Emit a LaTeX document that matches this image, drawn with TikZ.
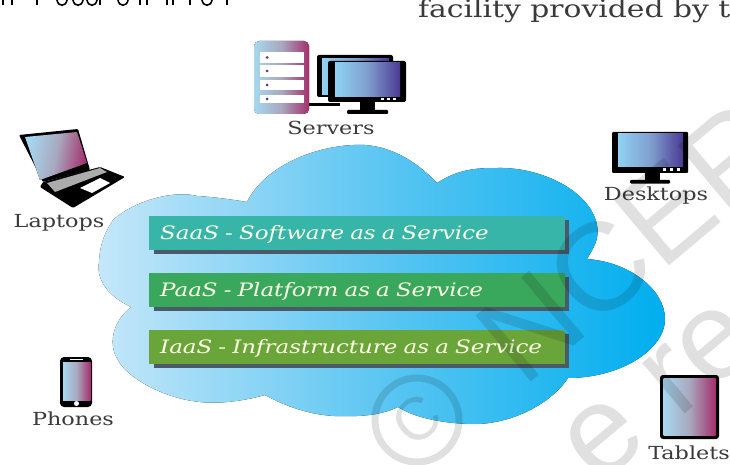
\documentclass[tikz,border=0pt]{standalone}
\usepackage{fontspec}
\setmainfont[FakeStretch=1.24]{DejaVu Serif}
\newfontfamily\wmfont{Liberation Sans}
\definecolor{cloudL}{HTML}{C6E7F9}
\definecolor{cloudM}{HTML}{5CC6F2}
\definecolor{cloudR}{HTML}{00AEEF}
\definecolor{iconL}{HTML}{A6D8F0}
\definecolor{iconM}{HTML}{A8A8BE}
\definecolor{iconR}{HTML}{A42F6C}
\definecolor{deskL}{HTML}{8FD2F2}
\definecolor{deskM}{HTML}{7F9FCE}
\definecolor{deskR}{HTML}{4B3A94}
\definecolor{barshadow}{HTML}{4A5A68}
\definecolor{labelgray}{HTML}{3A3A3A}
\tikzset{
  lbl/.style={text=labelgray,font=\fontsize{18}{18}\selectfont,inner sep=0pt},
  bar/.style={minimum width=416pt,minimum height=34pt,inner sep=0pt,text=white!90!yellow,anchor=west,
    font=\fontsize{18.5}{18.5}\selectfont\itshape,align=left,text width=394pt},
  pinkscreen/.style={left color=iconL,right color=iconR,middle color=iconM},
  bluescreen/.style={left color=deskL,right color=deskR,middle color=deskM},
  wmark/.style={rotate=40,inner sep=0pt,font=\wmfont\fontsize{125}{125}\selectfont}
}
\begin{document}
\begin{tikzpicture}[x=1pt,y=-1pt]
        \useasboundingbox (0,0) rectangle (730,465);
        \clip (0,0) rectangle (730,465);

        \foreach \hx in {3,12,37,100,140,147,167,173,190,227}{
          \draw [line width=1.6pt] (\hx,0) -- (\hx,5);
        }
        \foreach \hx in {62,78,92,123,207}{
          \draw [line width=1.6pt] (\hx-5,0) .. controls (\hx-4,7) and (\hx+4,7) .. (\hx+5,0);
        }

        \node (top) at (418,18) [text=labelgray,font=\fontsize{24}{24}\selectfont,inner sep=0pt,anchor=base west] {facility provided by t};

        \fill [left color=cloudL,right color=cloudR,middle color=cloudM]
          (131,307) .. controls (108,296) and (96,280) .. (99,262)
          .. controls (100,240) and (108,228) .. (113,220)
          .. controls (135,200) and (175,190) .. (197,196)
          .. controls (215,197) and (235,200) .. (247,202)
          .. controls (265,165) and (320,143) .. (365,145)
          .. controls (395,147) and (420,165) .. (437,183)
          .. controls (460,168) and (480,168) .. (498,168)
          .. controls (540,167) and (590,190) .. (597,225)
          .. controls (600,240) and (592,250) .. (587,259)
          .. controls (630,262) and (665,290) .. (665,319)
          .. controls (665,350) and (620,378) .. (568,378)
          .. controls (550,405) and (510,424) .. (475,424)
          .. controls (445,424) and (415,418) .. (398,407)
          .. controls (375,418) and (350,416) .. (335,416)
          .. controls (310,415) and (285,406) .. (265,395)
          .. controls (240,402) and (215,404) .. (200,402)
          .. controls (160,398) and (125,375) .. (118,360)
          .. controls (108,345) and (112,322) .. (131,307) -- cycle;

        \foreach \by/\bc/\bt/\bn in {
            233/36B5A8/SaaS - Software as a Service/saas,
            290/3AA85C/PaaS - Platform as a Service/paas,
            347/6AA53A/IaaS - Infrastructure as a Service/iaas}{
          \definecolor{barcol}{HTML}{\bc}
          \fill [barshadow] (154,\by-10) rectangle (569,\by+21);
          \fill [barshadow] (560,\by-13) rectangle (569,\by+21);
          \node (\bn) at (149,\by) [bar,fill=barcol] {\raisebox{-6pt}[0pt][0pt]{\bt}};
        }

        \node (servers) at (331,128) [lbl] {Servers};
        \node (laptops) at (59,223) [lbl] {Laptops};
        \node (desktops) at (656,196) [lbl] {Desktops};
        \node (phones) at (73,419) [lbl] {Phones};
        \node (tablets) at (689,453) [lbl] {Tablets};

        \fill [rounded corners=5pt,pinkscreen] (254,41) rectangle (309,114);
        \foreach \sy/\sh in {52/11,65/12,80/10,95/8}{
          \fill [white] (260,\sy) rectangle (304,\sy+\sh);
          \fill [deskR] (267,\sy+\sh/2) circle (1.5);
        }
        \fill (309,103.5) rectangle (340,106.5);
        \fill [rounded corners=2pt] (317,55) rectangle (393,97);
        \fill [bluescreen] (322,59) rectangle (389,95);
        \fill [rounded corners=2pt] (328,61) rectangle (406,102);
        \fill [bluescreen] (335,63) rectangle (400,97);
        \fill (360,102) rectangle (375,110);
        \fill [rounded corners=1pt] (347,110) rectangle (388,114);
        \foreach \dx in {381,387,393}{\fill [white] (\dx,98.5) rectangle (\dx+2.5,100.5);}

        \fill [rounded corners=1pt] (19,135) -- (78,129) -- (90,170) -- (43,182) -- cycle;
        \fill [rounded corners=1pt] (43,182) -- (100,167) -- (125,177) -- (73,208) -- (40,187) -- cycle;
        \fill [pinkscreen,shading angle=80] (25,137) -- (77,132) -- (87,163) -- (40,180) -- cycle;
        \fill [gray!65] (47,183) -- (100,168) -- (107,172) -- (55,192) -- cycle;
        \fill [white] (80,188) -- (100,178) -- (110,183) -- (92,193) -- cycle;

        \fill [rounded corners=1pt] (612,132) rectangle (688,173);
        \fill [bluescreen] (618,134) rectangle (683,167);
        \fill (645,173) rectangle (660,180);
        \fill [rounded corners=1pt] (630,180) rectangle (670,183.5);
        \foreach \dx in {663,670,677}{\fill [white] (\dx,168.5) rectangle (\dx+3,171);}

        \fill [rounded corners=4pt] (60,357) rectangle (92,407);
        \fill [pinkscreen] (63,362) rectangle (90.5,400);
        \fill [white] (76.5,403.5) circle (2.5);
        \fill [white] (70,359) rectangle (83,360);

        \fill [rounded corners=3pt] (660,375) rectangle (719,439);
        \fill [pinkscreen] (663.5,378.5) rectangle (715.5,435.5);

        \begin{scope}[opacity=0.12,text opacity=0.12]
          \node (wmcopy) at (417,420) [circle,draw=black,line width=7pt,minimum size=84pt,rotate=40,inner sep=0pt,font=\wmfont\fontsize{60}{60}\selectfont] {C};
          \node (wmname) at (660,218) [wmark] {NCERT};
          \node (wmline) at (660,392) [wmark] {e re};
        \end{scope}
    \end{tikzpicture}
\end{document}
